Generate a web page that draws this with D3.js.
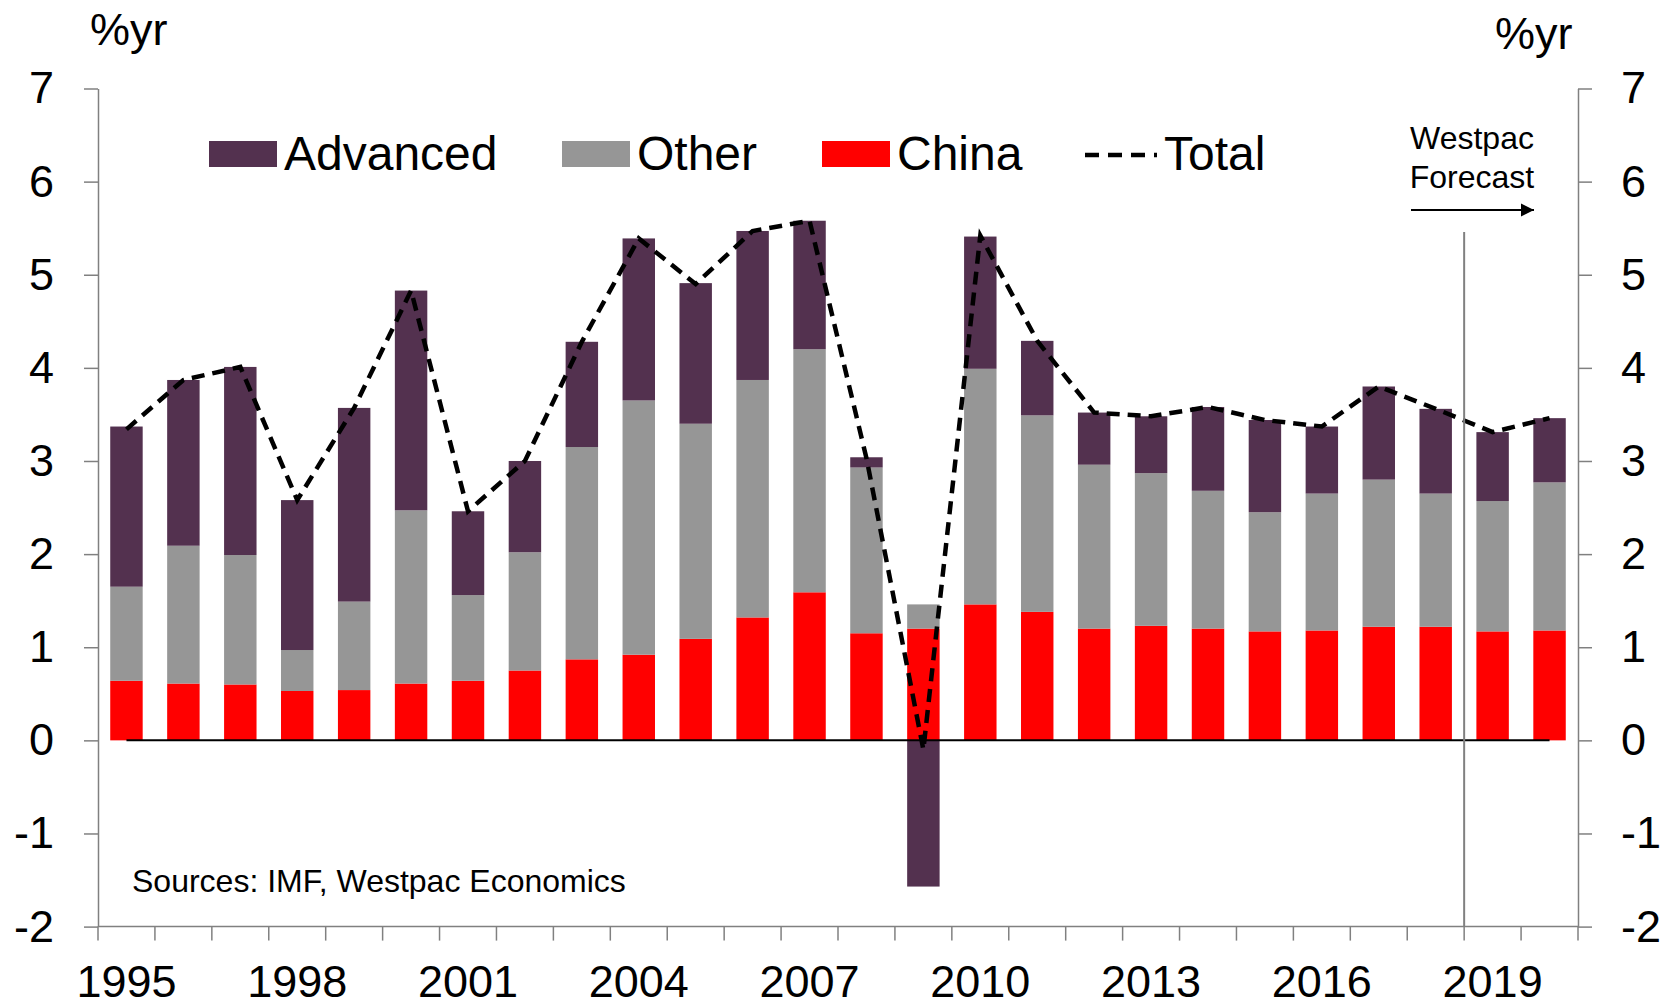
<!DOCTYPE html>
<html>
<head>
<meta charset="utf-8">
<script src="https://cdn.jsdelivr.net/npm/d3@7"></script>
<style>
  body { margin: 0; background: #fff; }
  svg { display: block; font-family: "Liberation Sans", Arial, sans-serif; }
</style>
</head>
<body>
<svg id="chart" width="1672" height="1006"></svg>
<script>
// world growth contributions, %yr
const years = d3.range(1995, 2021);
const china = [0.64, 0.61, 0.60, 0.53, 0.54, 0.61, 0.64, 0.75, 0.87, 0.92, 1.09, 1.32, 1.59,
  1.15, 1.20, 1.46, 1.38, 1.20, 1.23, 1.20, 1.17, 1.18, 1.22, 1.22, 1.17, 1.18];
const other = [1.01, 1.48, 1.39, 0.44, 0.95, 1.86, 0.92, 1.27, 2.28, 2.73, 2.31, 2.55, 2.61,
  1.78, 0.26, 2.53, 2.11, 1.76, 1.64, 1.48, 1.28, 1.47, 1.58, 1.43, 1.40, 1.59];
const advanced = [1.72, 1.78, 2.02, 1.61, 2.08, 2.36, 0.90, 0.98, 1.13, 1.74, 1.51, 1.60, 1.38,
  0.11, -1.57, 1.42, 0.80, 0.56, 0.61, 0.90, 0.99, 0.72, 1.00, 0.91, 0.74, 0.69];
const total = [3.34, 3.87, 4.01, 2.58, 3.57, 4.83, 2.46, 3.00, 4.28, 5.39, 4.90, 5.47, 5.58,
  3.03, -0.10, 5.42, 4.29, 3.52, 3.48, 3.58, 3.44, 3.37, 3.80, 3.56, 3.31, 3.46];
const yTicks = [-2, -1, 0, 1, 2, 3, 4, 5, 6, 7];
const xLabels = [1995, 1998, 2001, 2004, 2007, 2010, 2013, 2016, 2019];
const forecastStart = 2019;

const keys = ['china', 'other', 'advanced'];
const colors = { advanced: '#53314f', other: '#969696', china: '#ff0000' };
const legendItems = [
  { key: 'advanced', label: 'Advanced', x: 209 },
  { key: 'other', label: 'Other', x: 562 },
  { key: 'china', label: 'China', x: 822 },
];

const rows = years.map((yr, i) => ({
  year: yr, china: china[i], other: other[i], advanced: advanced[i], total: total[i]
}));

const svg = d3.select('#chart');
const plotLeft = 98, plotRight = 1578, plotTop = 88.5, plotBottom = 926.6;
const axisColor = '#808080';

const x = d3.scaleBand()
  .domain(years)
  .range([plotLeft, plotRight])
  .paddingInner(0.43)
  .paddingOuter(0.215);

const y = d3.scaleLinear().domain([-2, 7]).range([plotBottom, plotTop]);

// stacked bars, negative values stack downward from zero
const series = d3.stack().keys(keys).offset(d3.stackOffsetDiverging)(rows);

svg.append('g')
  .selectAll('g')
  .data(series)
  .join('g')
  .attr('fill', d => colors[d.key])
  .selectAll('rect')
  .data(d => d)
  .join('rect')
  .attr('x', d => x(d.data.year))
  .attr('width', x.bandwidth())
  .attr('y', d => y(Math.max(d[0], d[1])))
  .attr('height', d => Math.abs(y(d[0]) - y(d[1])));

// zero line from first to last bar centre
const half = x.bandwidth() / 2;
svg.append('line')
  .attr('x1', x(years[0]) + half)
  .attr('x2', x(years[years.length - 1]) + half)
  .attr('y1', y(0)).attr('y2', y(0))
  .attr('stroke', '#000').attr('stroke-width', 2);

// plain hyphen for negatives, like the original
const fmt = d => String(d);

// left axis
const yLeft = svg.append('g')
  .attr('transform', `translate(${plotLeft},0)`)
  .call(d3.axisLeft(y).tickValues(yTicks).tickFormat(fmt)
    .tickSize(14).tickSizeOuter(0).tickPadding(30));

// right axis
const yRight = svg.append('g')
  .attr('transform', `translate(${plotRight},0)`)
  .call(d3.axisRight(y).tickValues(yTicks).tickFormat(fmt)
    .tickSize(14).tickSizeOuter(0).tickPadding(29));

[yLeft, yRight].forEach(g => {
  g.select('.domain').attr('stroke', axisColor).attr('stroke-width', 1.5);
  g.selectAll('.tick line').attr('stroke', axisColor).attr('stroke-width', 1.5);
  g.selectAll('.tick text').attr('font-size', 45).attr('fill', '#000')
    .attr('font-family', '"Liberation Sans", Arial, sans-serif');
});

// bottom axis: ticks on band boundaries, labels every third year
svg.append('line')
  .attr('x1', plotLeft).attr('x2', plotRight)
  .attr('y1', plotBottom).attr('y2', plotBottom)
  .attr('stroke', axisColor).attr('stroke-width', 1.5);

const step = x.step();
const boundaries = d3.range(years.length + 1).map(i => plotLeft + i * step);
svg.append('g')
  .selectAll('line')
  .data(boundaries)
  .join('line')
  .attr('x1', d => d).attr('x2', d => d)
  .attr('y1', plotBottom).attr('y2', plotBottom + 14)
  .attr('stroke', axisColor).attr('stroke-width', 1.5);

svg.append('g')
  .selectAll('text')
  .data(xLabels)
  .join('text')
  .attr('x', d => x(d) + half)
  .attr('y', 997)
  .attr('text-anchor', 'middle')
  .attr('font-size', 45)
  .text(d => d);

// total growth line
const line = d3.line()
  .x((d, i) => x(years[i]) + half)
  .y(d => y(d));

svg.append('path')
  .datum(total)
  .attr('d', line)
  .attr('fill', 'none')
  .attr('stroke', '#000')
  .attr('stroke-width', 4.5)
  .attr('stroke-dasharray', '13,8');

// forecast divider
const fx = x(forecastStart) - x.step() * x.paddingInner() / 2;
svg.append('line')
  .attr('x1', fx).attr('x2', fx)
  .attr('y1', 232).attr('y2', plotBottom)
  .attr('stroke', axisColor).attr('stroke-width', 2);

svg.append('defs').append('marker')
  .attr('id', 'arrow')
  .attr('viewBox', '0 0 10 10')
  .attr('refX', 10).attr('refY', 5)
  .attr('markerWidth', 6).attr('markerHeight', 6)
  .attr('markerUnits', 'strokeWidth')
  .attr('orient', 'auto')
  .append('path')
  .attr('d', 'M0,0L10,5L0,10Z')
  .attr('fill', '#000');

svg.append('line')
  .attr('x1', 1411).attr('x2', 1534)
  .attr('y1', 210).attr('y2', 210)
  .attr('stroke', '#000').attr('stroke-width', 2.2)
  .attr('marker-end', 'url(#arrow)');

svg.append('text')
  .attr('x', 1472).attr('y', 149)
  .attr('text-anchor', 'middle').attr('font-size', 32)
  .text('Westpac');
svg.append('text')
  .attr('x', 1472).attr('y', 188)
  .attr('text-anchor', 'middle').attr('font-size', 32)
  .text('Forecast');

// unit labels
svg.append('text').attr('x', 90).attr('y', 45).attr('font-size', 45).text('%yr');
svg.append('text').attr('x', 1495).attr('y', 49).attr('font-size', 45).text('%yr');

// source note
svg.append('text').attr('x', 132).attr('y', 892).attr('font-size', 32)
  .text('Sources: IMF, Westpac Economics');

// legend
const legend = svg.append('g');
legendItems.forEach(item => {
  legend.append('rect')
    .attr('x', item.x).attr('y', 141)
    .attr('width', 68).attr('height', 26)
    .attr('fill', colors[item.key]);
  legend.append('text')
    .attr('x', item.x + 75).attr('y', 170)
    .attr('font-size', 48)
    .text(item.label);
});
legend.append('line')
  .attr('x1', 1085).attr('x2', 1157)
  .attr('y1', 155).attr('y2', 155)
  .attr('stroke', '#000').attr('stroke-width', 4.5)
  .attr('stroke-dasharray', '14,9');
legend.append('text')
  .attr('x', 1164).attr('y', 170)
  .attr('font-size', 48)
  .text('Total');
</script>
</body>
</html>
